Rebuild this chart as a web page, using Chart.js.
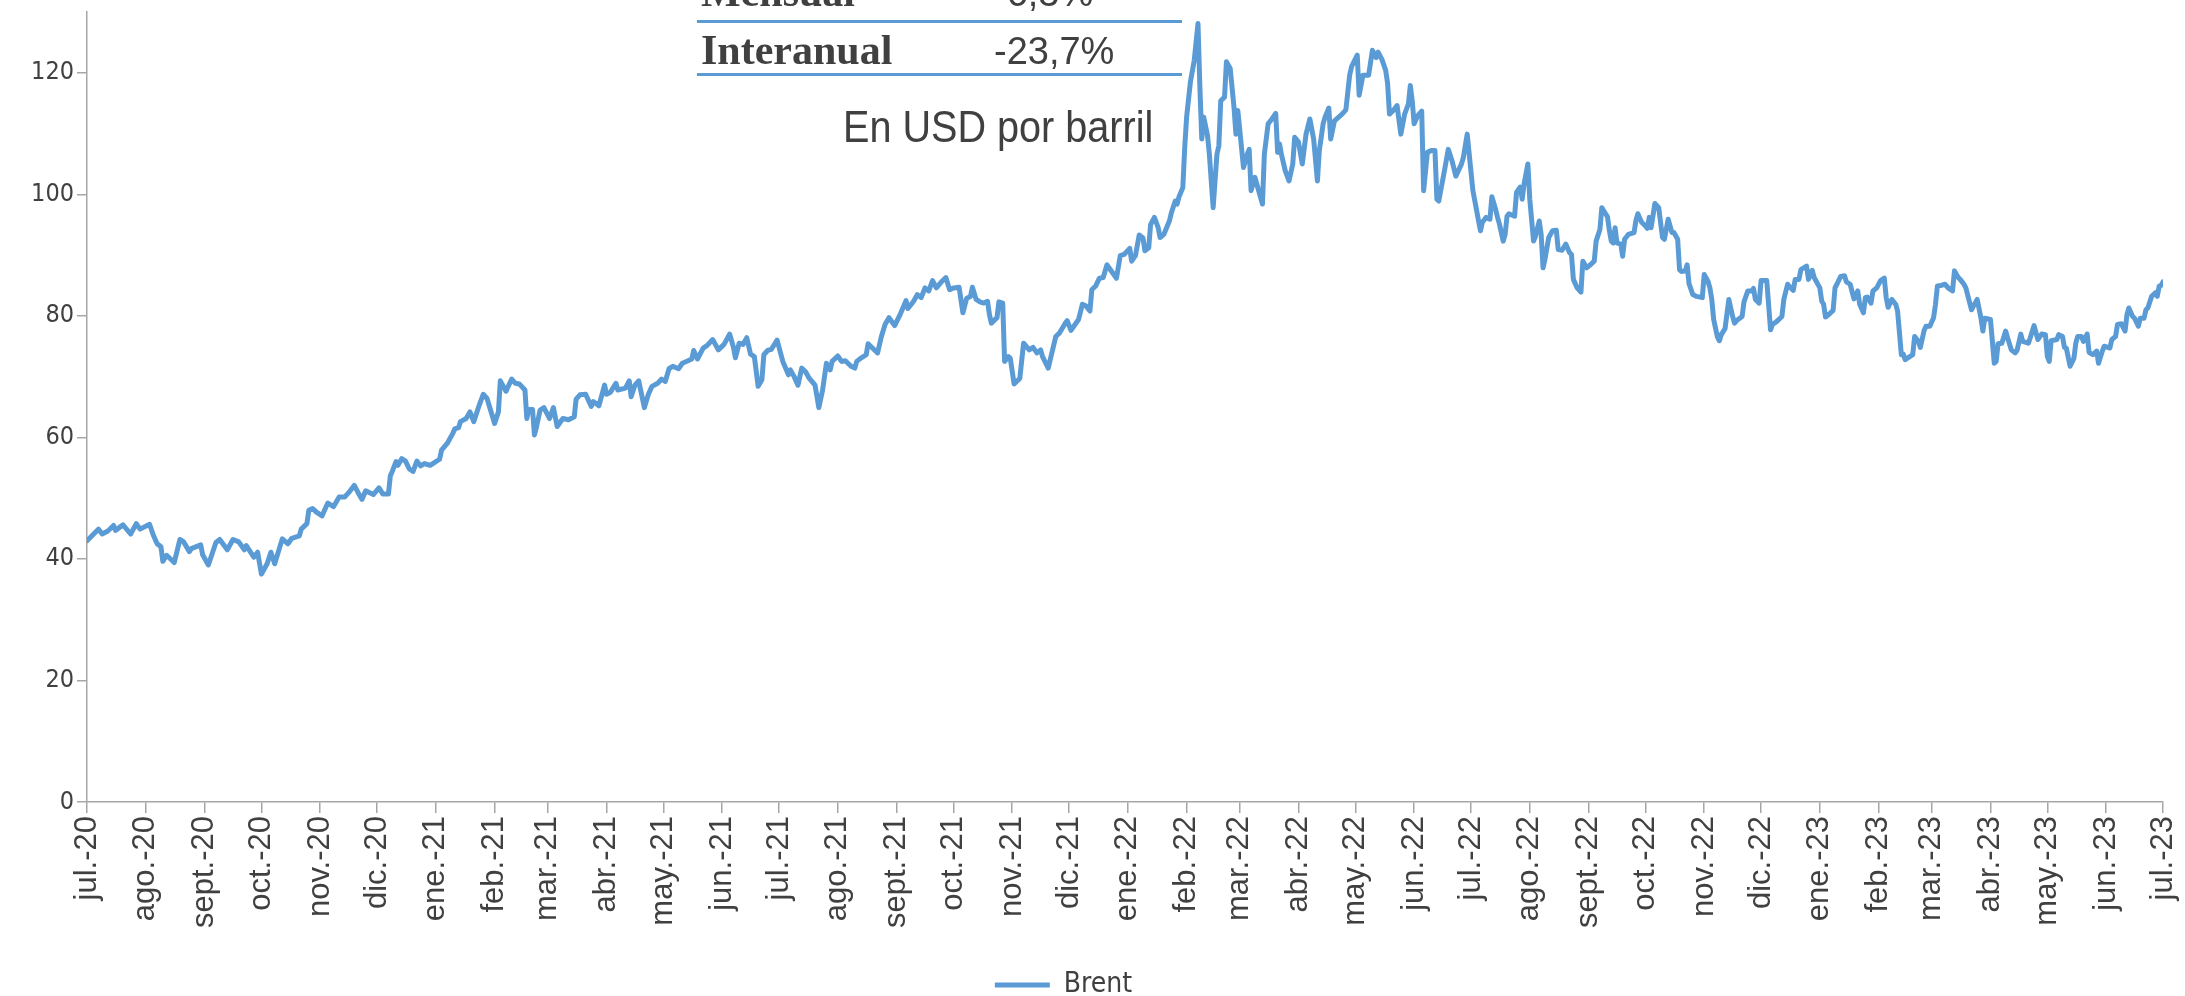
<!DOCTYPE html>
<html lang="es">
<head>
<meta charset="utf-8">
<title>Brent - En USD por barril</title>
<script src="https://cdn.jsdelivr.net/npm/chart.js@4.4.0/dist/chart.umd.min.js"></script>
<style>
    body { margin: 0; background: #fff; }
    #wrap { position: relative; width: 2185px; height: 996px; overflow: hidden; }
    .nota { position: absolute; color: #404040; white-space: nowrap; line-height: 1; }
    .serif { font-family: 'Liberation Serif', 'DejaVu Serif', serif; font-weight: bold; font-size: 42px; }
    .sans { font-family: 'Liberation Sans', Arial, sans-serif; font-size: 38px; }
    .regla { position: absolute; left: 697px; width: 485px; height: 3px; background: #5b9bd5; }
</style>
</head>
<body>
<div id="wrap">
    <canvas id="brentChart"></canvas>
    <div class="nota serif" style="left:701px; top:-29px;">Mensual</div>
    <div class="nota sans" style="left:994px; top:-26px;">-6,3%</div>
    <div class="regla" style="top:20px;"></div>
    <div class="nota serif" style="left:701px; top:29px;">Interanual</div>
    <div class="nota sans" style="left:994px; top:32px;">-23,7%</div>
    <div class="regla" style="top:73px;"></div>
    <div class="nota sans" style="left:843px; top:104px; font-size:45px; transform:scaleX(0.88); transform-origin:left top;">En USD por barril</div>
</div>
<script>
// Series: days since 1 Jul 2020 (as on the chart axis) and Brent price
const dias = [
    0, 6, 8, 11, 14, 15, 19, 23, 26, 28, 33, 35, 37, 39, 40, 42, 46, 49, 51, 54,
    55, 60, 61, 64, 68, 70, 74, 77, 80, 83, 84, 88, 90, 92, 95, 97, 99, 103, 106, 108,
    112, 113, 116, 117, 119, 121, 124, 127, 130, 133, 136, 138, 141, 143, 145, 147, 151, 154, 156, 159,
    160, 161, 163, 164, 166, 168, 170, 172, 174, 176, 178, 181, 184, 186, 187, 190, 193, 194, 196, 197,
    200, 202, 204, 207, 209, 211, 215, 217, 218, 221, 224, 226, 228, 231, 232, 233, 235, 236, 237, 239,
    241, 244, 246, 248, 251, 254, 257, 258, 260, 263, 266, 267, 270, 273, 274, 276, 279, 280, 284, 286,
    287, 289, 291, 294, 296, 298, 301, 303, 305, 307, 309, 312, 314, 317, 319, 320, 322, 325, 327, 330,
    333, 336, 339, 341, 342, 344, 346, 348, 350, 352, 354, 356, 357, 359, 361, 364, 367, 370, 371, 373,
    375, 377, 379, 381, 384, 386, 388, 390, 392, 393, 396, 398, 400, 403, 405, 406, 408, 411, 412, 414,
    417, 419, 421, 423, 426, 429, 432, 433, 436, 438, 440, 442, 444, 446, 448, 451, 453, 455, 457, 460,
    462, 464, 466, 467, 469, 471, 473, 475, 476, 477, 480, 481, 483, 484, 486, 487, 489, 492, 494, 497,
    499, 501, 503, 504, 507, 511, 513, 516, 517, 519, 523, 525, 527, 529, 530, 532, 534, 536, 538, 540,
    543, 545, 547, 550, 551, 553, 555, 557, 558, 560, 561, 563, 565, 566, 568, 571, 572, 574, 575, 576,
    578, 579, 580, 582, 584, 586, 587, 588, 589, 591, 592, 594, 596, 597, 598, 600, 601, 603, 605, 606,
    607, 610, 612, 613, 614, 616, 617, 620, 621, 623, 625, 627, 628, 629, 630, 632, 634, 636, 637, 639,
    641, 643, 645, 647, 649, 650, 652, 653, 655, 656, 658, 662, 664, 666, 667, 670, 671, 673, 676, 678,
    680, 681, 683, 685, 686, 687, 689, 691, 693, 695, 697, 698, 699, 700, 702, 704, 705, 707, 709, 711,
    712, 713, 716, 718, 720, 722, 725, 726, 728, 731, 734, 735, 736, 738, 740, 741, 743, 744, 745, 747,
    748, 749, 750, 753, 754, 756, 757, 758, 760, 761, 763, 764, 766, 767, 768, 769, 771, 773, 775, 776,
    778, 780, 782, 783, 784, 786, 788, 789, 791, 793, 795, 796, 798, 799, 800, 802, 803, 804, 805, 806,
    807, 809, 810, 811, 813, 816, 817, 818, 820, 822, 823, 824, 825, 827, 829, 831, 832, 834, 836, 837,
    839, 840, 841, 843, 844, 845, 847, 849, 852, 853, 855, 856, 857, 858, 860, 861, 862, 864, 866, 868,
    869, 870, 873, 874, 876, 878, 879, 880, 882, 883, 886, 888, 889, 891, 894, 895, 897, 898, 900, 901,
    903, 904, 907, 908, 910, 911, 914, 915, 916, 917, 919, 921, 922, 923, 925, 927, 928, 930, 932, 933,
    934, 935, 937, 938, 939, 941, 942, 944, 946, 948, 949, 950, 952, 954, 955, 957, 958, 959, 961, 963,
    964, 966, 967, 969, 970, 972, 974, 975, 976, 978, 980, 982, 984, 985, 987, 988, 990, 991, 994, 995,
    997, 999, 1000, 1001, 1004, 1006, 1007, 1008, 1010, 1012, 1013, 1015, 1017, 1018, 1020, 1021, 1024, 1025, 1027, 1029,
    1031, 1033, 1034, 1035, 1036, 1039, 1040, 1042, 1043, 1044, 1046, 1048, 1049, 1050, 1052, 1053, 1055, 1056, 1058, 1060,
    1061, 1063, 1064, 1067, 1068, 1070, 1071, 1073, 1075, 1076, 1077, 1079, 1080, 1082, 1083, 1085, 1086, 1087, 1089, 1091,
    1092, 1093, 1094, 1095
];

const brent = [
    43.0, 44.9, 44.1, 44.6, 45.5, 44.7, 45.6, 44.1, 45.8, 44.9, 45.7, 43.9, 42.5, 42.0, 39.6, 40.6, 39.4, 43.2, 42.8, 41.2,
    41.7, 42.3, 40.7, 39.0, 42.7, 43.2, 41.5, 43.2, 42.8, 41.5, 42.2, 40.3, 41.1, 37.5, 39.2, 41.1, 39.2, 43.3, 42.5, 43.4,
    43.8, 44.9, 45.8, 48.0, 48.3, 47.7, 47.1, 49.2, 48.6, 50.2, 50.2, 50.9, 52.1, 50.9, 49.8, 51.2, 50.6, 51.7, 50.7, 50.7,
    53.7, 54.4, 56.0, 55.4, 56.5, 56.1, 54.8, 54.4, 56.1, 55.3, 55.7, 55.4, 56.0, 56.4, 57.9, 59.0, 60.7, 61.4, 61.6, 62.6,
    63.1, 64.2, 62.6, 65.4, 67.1, 66.4, 62.3, 64.2, 69.3, 67.6, 69.6, 68.9, 68.8, 67.8, 63.1, 64.6, 64.6, 60.4, 61.6, 64.5,
    64.9, 63.1, 64.9, 61.8, 63.1, 62.9, 63.4, 66.3, 67.0, 67.1, 65.1, 65.9, 65.2, 68.6, 67.1, 67.4, 68.9, 67.8, 68.1, 69.3,
    66.7, 68.6, 69.3, 64.9, 67.0, 68.4, 68.9, 69.6, 69.2, 71.3, 71.7, 71.3, 72.2, 72.6, 72.9, 74.3, 72.9, 74.7, 75.1, 76.1,
    74.4, 75.3, 77.0, 74.8, 73.1, 75.5, 75.3, 76.4, 73.7, 73.3, 68.4, 69.5, 73.6, 74.3, 74.5, 76.0, 72.5, 70.3, 71.1, 70.0,
    68.6, 71.4, 70.8, 69.7, 68.6, 64.9, 67.8, 72.2, 71.1, 72.5, 73.4, 72.5, 72.6, 71.7, 71.4, 72.5, 73.0, 73.6, 75.4, 74.8,
    73.9, 76.6, 78.6, 79.7, 78.4, 80.3, 82.5, 81.2, 82.4, 83.5, 83.0, 84.6, 84.1, 85.8, 84.6, 85.7, 86.3, 84.3, 84.6, 84.7,
    80.5, 82.9, 83.2, 84.7, 82.7, 82.3, 82.1, 82.4, 80.2, 78.8, 79.7, 82.3, 82.1, 72.5, 73.3, 73.0, 68.8, 69.7, 75.5, 74.4,
    74.8, 73.9, 74.4, 73.3, 71.4, 76.6, 77.2, 78.8, 79.2, 77.6, 79.4, 81.9, 81.6, 80.8, 84.3, 84.9, 86.2, 86.3, 88.4, 87.5,
    86.2, 89.9, 90.1, 91.1, 89.0, 89.9, 93.3, 92.8, 90.7, 91.2, 95.0, 96.2, 94.5, 92.9, 93.4, 95.7, 97.0, 98.9, 98.4, 99.6,
    101.1, 107.7, 112.7, 118.5, 122.0, 128.1, 117.6, 109.1, 112.7, 109.7, 106.6, 97.8, 106.6, 108.0, 115.4, 116.0, 121.8, 120.7, 114.3, 109.9,
    113.8, 104.4, 106.6, 107.4, 100.6, 102.8, 101.7, 98.4, 106.6, 111.6, 112.4, 113.3, 106.9, 108.3, 106.6, 103.9, 102.2, 105.0, 109.4, 108.6,
    105.0, 109.9, 112.4, 109.1, 102.2, 107.2, 111.6, 112.7, 114.2, 109.1, 112.1, 113.2, 113.9, 119.6, 121.0, 122.9, 116.3, 119.6, 119.6, 123.7,
    122.5, 123.4, 122.2, 120.4, 118.3, 113.2, 113.8, 114.6, 109.9, 113.2, 114.9, 117.9, 115.4, 111.6, 113.0, 113.7, 100.6, 106.9, 107.2, 107.2,
    99.2, 98.9, 103.9, 107.4, 105.5, 103.0, 105.0, 106.1, 109.9, 100.6, 95.6, 94.0, 95.4, 96.2, 95.9, 99.6, 97.5, 96.2, 95.1, 92.3,
    93.4, 96.4, 96.8, 96.4, 100.3, 101.2, 99.2, 101.7, 105.0, 99.2, 92.3, 93.1, 95.6, 93.4, 87.9, 89.3, 92.9, 94.0, 94.1, 90.9,
    90.8, 91.8, 90.4, 90.1, 86.0, 84.6, 83.9, 89.0, 87.9, 88.4, 89.0, 92.3, 94.2, 97.8, 97.3, 96.3, 94.0, 92.3, 92.0, 94.5,
    92.0, 91.8, 89.8, 92.6, 93.4, 93.7, 95.7, 96.8, 95.4, 94.8, 94.4, 96.2, 94.5, 98.5, 97.8, 92.9, 92.6, 95.9, 93.7, 93.7,
    92.6, 87.6, 87.3, 87.4, 88.4, 85.3, 83.5, 83.2, 83.0, 86.8, 85.7, 84.6, 82.7, 79.4, 76.5, 75.9, 76.9, 77.9, 82.7, 79.9,
    78.8, 79.2, 79.9, 82.3, 84.1, 84.1, 84.5, 82.7, 82.1, 85.8, 85.8, 77.7, 78.6, 79.0, 79.9, 82.7, 85.2, 84.8, 84.2, 86.0,
    86.0, 87.6, 88.2, 86.0, 87.5, 86.3, 84.6, 82.4, 81.9, 79.8, 80.3, 80.9, 84.6, 85.2, 86.5, 86.6, 85.6, 85.2, 82.8, 83.4,
    84.1, 81.9, 80.5, 83.0, 83.1, 82.1, 84.1, 84.6, 85.8, 86.2, 83.0, 81.4, 82.7, 81.9, 80.8, 73.6, 73.7, 72.8, 73.2, 73.6,
    76.6, 75.8, 74.8, 77.6, 78.3, 78.3, 79.7, 81.9, 84.9, 85.0, 85.2, 84.5, 84.1, 87.4, 86.3, 86.0, 85.2, 84.6, 81.0, 81.6,
    82.7, 79.6, 77.5, 79.6, 79.4, 72.2, 72.5, 75.4, 75.5, 77.5, 76.4, 74.4, 73.9, 74.3, 77.0, 75.8, 75.5, 76.4, 78.4, 76.1,
    77.0, 76.9, 73.3, 72.5, 75.9, 76.1, 76.9, 76.6, 74.8, 74.7, 71.7, 73.0, 75.5, 76.6, 76.6, 75.8, 77.0, 74.0, 73.6, 74.2,
    72.2, 74.2, 75.0, 74.7, 76.1, 76.6, 78.6, 78.7, 77.5, 80.2, 81.3, 79.9, 79.6, 78.3, 79.6, 79.6, 81.0, 81.3, 83.2, 83.8,
    83.2, 84.9, 85.0, 85.6
];

// Month tick labels (jul.-20 ... jul.-23)
const etiquetasX = [
    'jul.-20', 'ago.-20', 'sept.-20', 'oct.-20', 'nov.-20', 'dic.-20',
    'ene.-21', 'feb.-21', 'mar.-21', 'abr.-21', 'may.-21', 'jun.-21',
    'jul.-21', 'ago.-21', 'sept.-21', 'oct.-21', 'nov.-21', 'dic.-21',
    'ene.-22', 'feb.-22', 'mar.-22', 'abr.-22', 'may.-22', 'jun.-22',
    'jul.-22', 'ago.-22', 'sept.-22', 'oct.-22', 'nov.-22', 'dic.-22',
    'ene.-23', 'feb.-23', 'mar.-23', 'abr.-23', 'may.-23', 'jun.-23',
    'jul.-23'
];

const serieNombre = 'Brent';
const colorLinea = '#5b9bd5';
const colorTexto = '#404040';
const colorEje = '#a6a6a6';
const fuente = "'Liberation Sans', Arial, sans-serif";
const fuenteEstrecha = "'DejaVu Sans Condensed', 'Liberation Sans', sans-serif";

// day offset of each month start, counted from 1 Jul 2020
const DIA_MS = 86400000;
const inicio = Date.UTC(2020, 6, 1);
const inicioMes = etiquetasX.map((_, i) => Math.round((Date.UTC(2020, 6 + i, 1) - inicio) / DIA_MS));

// nudge the legend to where the original sits
const moverLeyenda = {
    id: 'moverLeyenda',
    afterLayout(chart) {
        const l = chart.legend;
        if (!l) return;
        l.top += 13; l.bottom += 13;
        l.left -= 18; l.right -= 18;
    }
};

let brentChart;

function initChart() {
    const ctx = document.getElementById('brentChart').getContext('2d');
    brentChart = new Chart(ctx, {
        type: 'line',
        data: {
            datasets: [{
                label: serieNombre,
                data: dias.map((d, i) => ({ x: d, y: brent[i] })),
                borderColor: colorLinea,
                backgroundColor: colorLinea,
                borderWidth: 5,
                borderJoinStyle: 'round',
                borderCapStyle: 'round',
                pointRadius: 0,
                tension: 0,
                fill: false
            }]
        },
        options: {
            responsive: true,
            maintainAspectRatio: false,
            animation: false,
            devicePixelRatio: 1,
            layout: {
                padding: { top: 12, right: 22, bottom: 0, left: 0 }
            },
            scales: {
                x: {
                    type: 'linear',
                    min: 0,
                    max: inicioMes[inicioMes.length - 1],
                    afterBuildTicks: (scale) => {
                        scale.ticks = inicioMes.map(v => ({ value: v }));
                    },
                    afterFit: (scale) => {
                        scale.height = 150;
                        scale.paddingLeft = 0;
                        scale.paddingRight = 0;
                    },
                    ticks: {
                        autoSkip: false,
                        minRotation: 90,
                        maxRotation: 90,
                        padding: 3,
                        color: colorTexto,
                        font: { family: fuente, size: 31 },
                        callback: (value) => {
                            const i = inicioMes.indexOf(value);
                            return i >= 0 ? etiquetasX[i] : '';
                        }
                    },
                    grid: {
                        drawOnChartArea: false,
                        drawTicks: true,
                        tickLength: 11,
                        color: colorEje,
                        lineWidth: 1.5
                    },
                    border: { display: true, color: colorEje, width: 1.5 }
                },
                y: {
                    min: 0,
                    max: 130,
                    afterBuildTicks: (scale) => {
                        scale.ticks = scale.ticks.filter(t => t.value % 20 === 0);
                    },
                    afterFit: (scale) => {
                        scale.width = 87;
                        scale.paddingTop = 0;
                        scale.paddingBottom = 0;
                    },
                    ticks: {
                        stepSize: 20,
                        padding: 3,
                        color: colorTexto,
                        font: { family: fuenteEstrecha, size: 25 }
                    },
                    grid: {
                        drawOnChartArea: false,
                        drawTicks: true,
                        tickLength: 10,
                        color: colorEje,
                        lineWidth: 1.5
                    },
                    border: { display: true, color: colorEje, width: 1.5 }
                }
            },
            plugins: {
                legend: {
                    position: 'bottom',
                    labels: {
                        usePointStyle: true,
                        pointStyle: 'line',
                        pointStyleWidth: 55,
                        padding: 6,
                        color: colorTexto,
                        font: { family: fuenteEstrecha, size: 28 }
                    }
                },
                tooltip: { enabled: false }
            }
        },
        plugins: [moverLeyenda]
    });
}

window.addEventListener('load', () => {
    initChart();
});
</script>
</body>
</html>
